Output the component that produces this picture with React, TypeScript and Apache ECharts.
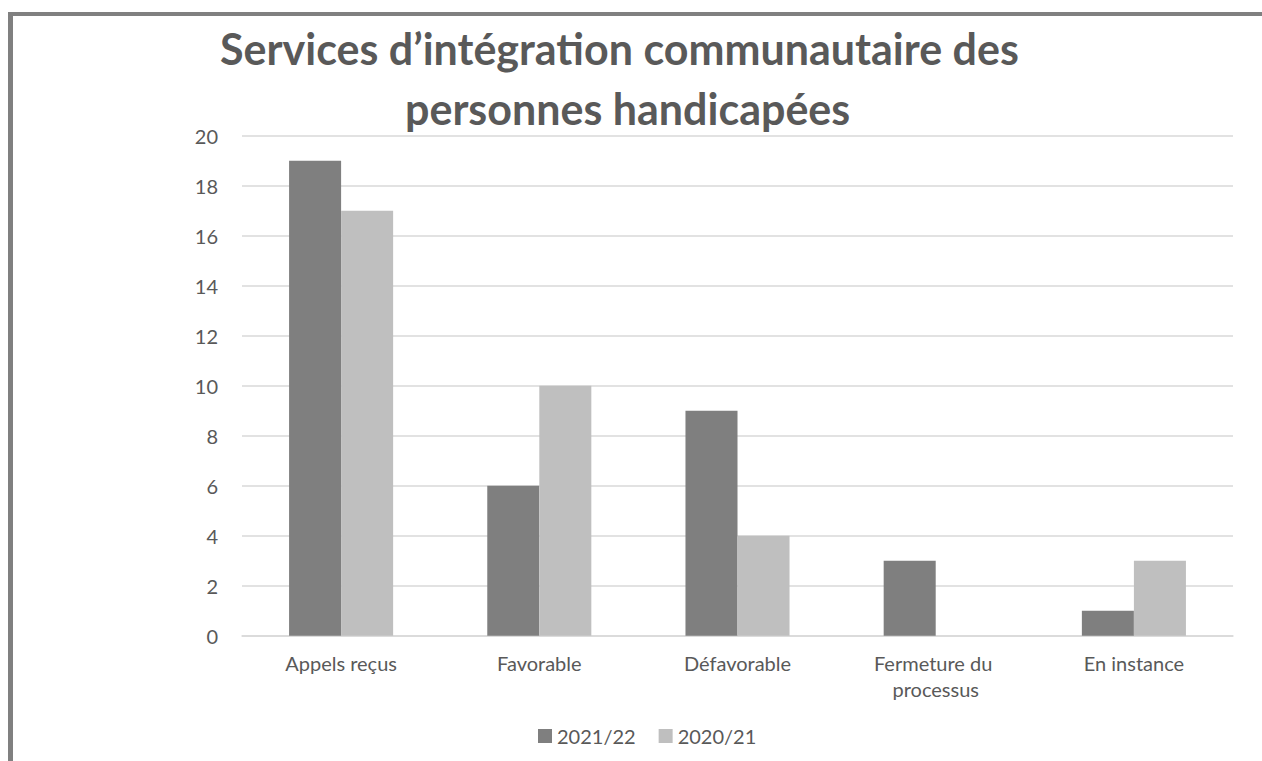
import React, { useEffect, useRef } from "react";
import * as echarts from "echarts";

const titleLines = ["Services d’intégration communautaire des", "personnes handicapées"];
const categories = ["Appels reçus", "Favorable", "Défavorable", "Fermeture du processus", "En instance"];
const seriesNames = ["2021/22", "2020/21"];
const values2122 = [19, 6, 9, 3, 1];
const values2021 = [17, 10, 4, 0, 3];
const seriesColors = ["#7f7f7f", "#bfbfbf"];

const FONT = "Lato, 'Open Sans', sans-serif";

export default function App() {
  const ref = useRef<HTMLDivElement>(null);
  useEffect(() => {
    if (!ref.current) return;
    const chart = echarts.init(ref.current, undefined, { renderer: "svg" });
    chart.setOption({
      animation: false,
      backgroundColor: "#ffffff",
      textStyle: { fontFamily: FONT },
      graphic: [
        { type: "rect", shape: { x: 8, y: 12, width: 5, height: 749 }, style: { fill: "#808080" } },
        { type: "rect", shape: { x: 8, y: 12, width: 1254, height: 4 }, style: { fill: "#808080" } },
        {
          type: "text",
          x: 220,
          y: 48,
          style: {
            text: titleLines[0],
            font: `bold 43px ${FONT}`,
            fill: "#595959",
            textAlign: "left",
            textVerticalAlign: "middle",
          },
        },
        {
          type: "text",
          x: 405,
          y: 108,
          style: {
            text: titleLines[1],
            font: `bold 43px ${FONT}`,
            fill: "#595959",
            textAlign: "left",
            textVerticalAlign: "middle",
          },
        },
      ],
      legend: {
        left: 533,
        top: 721,
        itemWidth: 14,
        itemHeight: 14,
        itemGap: 23,
        icon: "rect",
        textStyle: { fontSize: 20, color: "#595959", fontFamily: FONT },
        data: seriesNames,
      },
      grid: { left: 242, right: 29, top: 135.7, bottom: 125.3, containLabel: false },
      xAxis: {
        type: "category",
        data: categories,
        axisLine: { lineStyle: { color: "#d9d9d9", width: 1.5 } },
        axisTick: { show: false },
        axisLabel: {
          color: "#595959",
          fontSize: 20,
          margin: 14,
          width: 150,
          overflow: "break",
          lineHeight: 26,
          interval: 0,
        },
      },
      yAxis: {
        type: "value",
        min: 0,
        max: 20,
        interval: 2,
        axisLine: { show: false },
        axisTick: { show: false },
        axisLabel: { color: "#595959", fontSize: 20, margin: 24 },
        splitLine: { lineStyle: { color: "#d9d9d9", width: 1.5 } },
      },
      series: [
        {
          name: seriesNames[0],
          type: "bar",
          data: values2122,
          itemStyle: { color: seriesColors[0] },
          barGap: "0%",
          barCategoryGap: "47.5%",
        },
        {
          name: seriesNames[1],
          type: "bar",
          data: values2021,
          itemStyle: { color: seriesColors[1] },
          barGap: "0%",
          barCategoryGap: "47.5%",
        },
      ],
    });
    return () => chart.dispose();
  }, []);
  return (
    <div
      ref={ref}
      style={{ position: "fixed", left: 0, top: 0, width: 1262, height: 761, background: "#fff" }}
    />
  );
}
